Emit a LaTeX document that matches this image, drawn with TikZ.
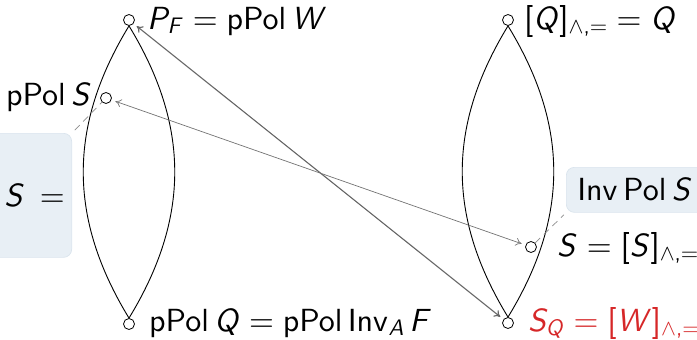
\documentclass[tikz,border=0pt]{standalone}
\usepackage{amsmath}
\usetikzlibrary{arrows.meta,calc}
\DeclareFontFamily{OT1}{xcmss}{}
\DeclareFontShape{OT1}{xcmss}{m}{n}{<->cmss10}{}
\DeclareFontShape{OT1}{xcmss}{m}{it}{<->cmssi10}{}
\DeclareFontFamily{OMS}{xcmsy}{\skewchar\font48}
\DeclareFontShape{OMS}{xcmsy}{m}{n}{<->cmsy10}{}
\SetSymbolFont{operators}{normal}{OT1}{xcmss}{m}{n}
\SetSymbolFont{letters}{normal}{OT1}{xcmss}{m}{it}
\SetSymbolFont{symbols}{normal}{OMS}{xcmsy}{m}{n}
\DeclareMathSymbol{,}{\mathpunct}{operators}{`,}
\newcommand{\opPPol}{\operatorname{pPol}}
\newcommand{\opInv}{\operatorname{Inv}}
\newcommand{\opPol}{\operatorname{Pol}}
\definecolor{redq}{RGB}{214,39,40}
\definecolor{boxfill}{RGB}{232,239,245}
\definecolor{boxline}{RGB}{218,228,237}
\tikzset{
  pt/.style={circle, draw, fill=white, inner sep=0pt, minimum size=11pt, line width=0.8pt},
  lbl/.style={font=\sffamily\fontsize{32}{38}\selectfont, inner sep=0pt, anchor=base west},
  lens/.style={line width=0.9pt},
  arrA/.style={draw=black!60, line width=1.1pt, {To[length=6pt,width=8pt]}-{To[length=6pt,width=8pt]}, shorten <=4pt, shorten >=4pt},
  arrB/.style={draw=black!55, line width=0.7pt, {To[length=6pt,width=8pt]}-{To[length=6pt,width=8pt]}, shorten <=4pt, shorten >=4pt},
  dsh/.style={draw=black!45, line width=0.7pt, dash pattern=on 7pt off 5pt},
  boxst/.style={rounded corners=8pt, fill=boxfill, draw=boxline, line width=0.7pt, font=\sffamily\fontsize{32}{38}\selectfont, inner xsep=11pt, inner ysep=0pt}
}
\begin{document}
\begin{tikzpicture}[x=1pt,y=-1pt]
\useasboundingbox (0,0) rectangle (697,340);
% boxes
\node[boxst, inner xsep=7pt, anchor=north east, minimum height=124pt, text width=150pt, align=right] (lb) at (72,133) {$\opPol S =$};
\node[boxst, anchor=north west, minimum height=45pt, text width=130pt, align=left] (rb) at (566,167) {$\opInv\opPol S$};
% points
\node[pt] (pf) at (129,20) {};
\node[pt] (pq) at (129,324) {};
\node[pt] (ps) at (106,98) {};
\node[pt] (qq) at (508,20) {};
\node[pt] (sq) at (508,323) {};
\node[pt] (ss) at (531,247) {};
% lenses
\draw[lens] (pf.south) .. controls +(-61,100) and +(-61,-100) .. (pq.north);
\draw[lens] (pf.south) .. controls +(61,100) and +(61,-100) .. (pq.north);
\draw[lens] (qq.south) .. controls +(-61,100) and +(-61,-100) .. (sq.north);
\draw[lens] (qq.south) .. controls +(61,100) and +(61,-100) .. (sq.north);
% dashed callouts
\draw[dsh, shorten <=4pt] (lb.north east) -- (ps);
\draw[dsh, shorten >=3pt] (ss) -- (rb.south west);
% arrows
\draw[arrA] (pf) -- (sq);
\draw[arrB] (ps) -- (ss);
% labels
\node[lbl] (lpf) at (147,29) {$P_F = \opPPol W$};
\node[lbl, anchor=base east] (lps) at (92,105) {$\opPPol S$};
\node[lbl] (lpq) at (149,331) {$\opPPol Q = \opPPol\opInv_A F$};
\node[lbl] (lqq) at (524,29) {$[Q]_{\wedge,=} = Q$};
\node[lbl] (lss) at (557,256) {$S = [S]_{\wedge,=}$};
\node[lbl, text=redq] (lsq) at (528,331) {$S_Q = [W]_{\wedge,=}$};
\end{tikzpicture}
\end{document}
